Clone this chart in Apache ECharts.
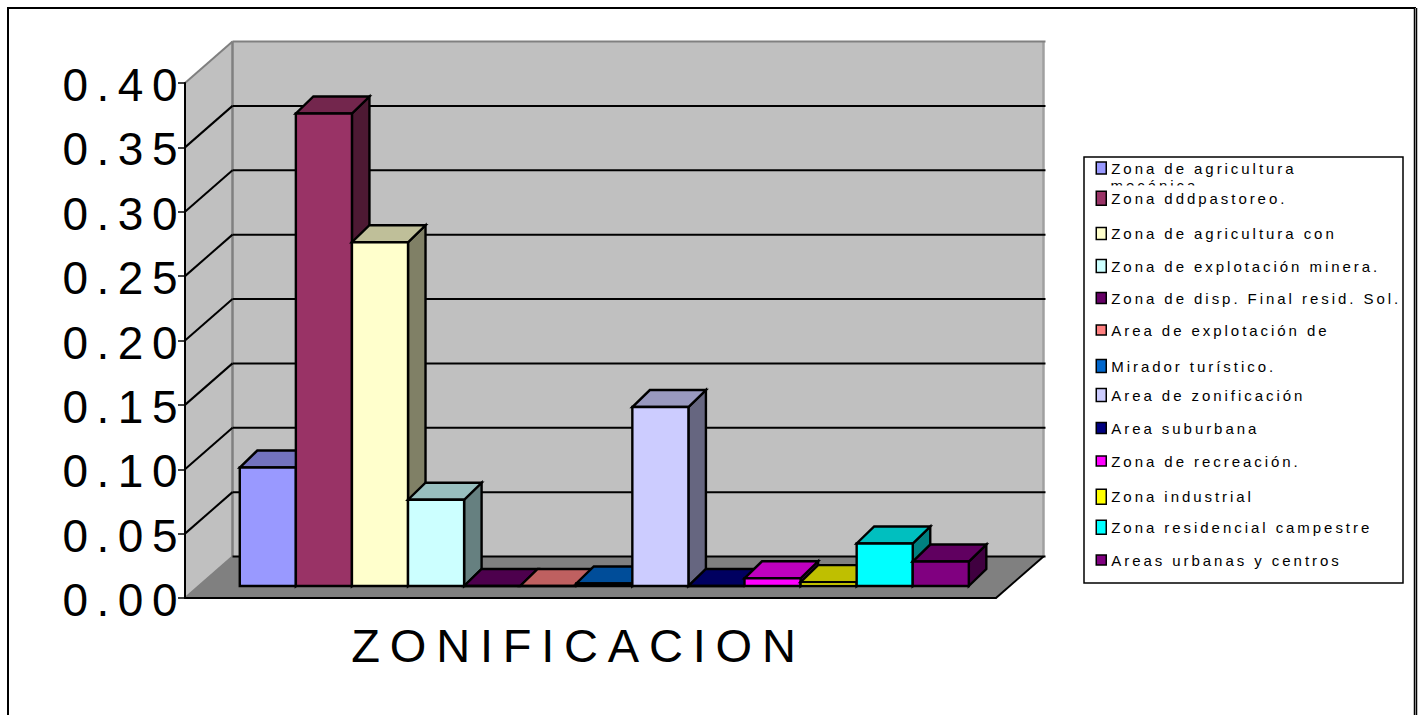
<!DOCTYPE html>
<html>
<head>
<meta charset="utf-8">
<style>
html,body{margin:0;padding:0;background:#fff;overflow:hidden}
#chart{width:1418px;height:715px}
svg text[style*="46px"]{letter-spacing:8.5px}
svg text[style*="47px"]{letter-spacing:9.8px}
svg text[style*="15px"]{letter-spacing:2.95px}
</style>
<script src="https://cdn.jsdelivr.net/npm/echarts@6/dist/echarts.min.js"></script>
</head>
<body>
<div id="chart"></div>
<script>
const categories = ['ZONIFICACION'];
const yTicks = [0, 0.05, 0.10, 0.15, 0.20, 0.25, 0.30, 0.35, 0.40];
const seriesNames = [
  'Zona de agricultura mecánica', 'Zona dddpastoreo.', 'Zona de agricultura con',
  'Zona de explotación minera.', 'Zona de disp. Final resid. Sol.', 'Area de explotación de',
  'Mirador turístico.', 'Area de zonificación', 'Area suburbana', 'Zona de recreación.',
  'Zona industrial', 'Zona residencial campestre', 'Areas urbanas y centros'
];
const seriesValues = [0.092, 0.367, 0.267, 0.067, 0, 0, 0.002, 0.139, 0, 0.006, 0.003, 0.033, 0.019];
const frontColors = ['#9999FF', '#993366', '#FFFFCC', '#CCFFFF', '#660066', '#FF8080', '#0066CC',
  '#CCCCFF', '#000080', '#FF00FF', '#FFFF00', '#00FFFF', '#800080'];
const topColors = ['#7373BF', '#73264D', '#BFBF99', '#99BFBF', '#4D004D', '#BF6060', '#004D99',
  '#9999BF', '#000060', '#BF00BF', '#BFBF00', '#00BFBF', '#600060'];
const sideColors = ['#4D4D80', '#4D1933', '#808066', '#668080', '#330033', '#804040', '#003366',
  '#666680', '#000040', '#800080', '#808000', '#008080', '#400040'];

// layout of the fake 3D box and legend, in pixels
const WALL_DX = 47.5, WALL_DY = 41.5, PLANE_DX = 13.8, PLANE_DY = 12, BAR_DX = 17.5, BAR_DY = 17, BAR_SHARE = 0.06915;
const legendCentres = [169, 199, 234.5, 267, 299, 331, 367, 396, 429, 462, 497, 528, 561];
const legendIconH = [12, 14, 12, 13, 11, 10, 13, 13, 11, 10, 15, 14, 10];

function poly(points, fill, stroke, lw) {
  return { type: 'polygon', shape: { points }, style: { fill, stroke: stroke || null, lineWidth: lw || 0, lineJoin: 'miter' } };
}
function seg(a, b, stroke, lw) {
  return { type: 'line', shape: { x1: a[0], y1: a[1], x2: b[0], y2: b[1] }, style: { stroke, lineWidth: lw } };
}
function boxBack(params, api) {
  const band = api.size([1, 0])[0];
  const c = api.coord([0, 0]), t = api.coord([0, yTicks[yTicks.length - 1]]);
  const xl = c[0] - band / 2, xr = c[0] + band / 2, y0 = c[1], y1 = t[1];
  return { type: 'group', children: [
    poly([[xl, y0], [xl, y1], [xl + WALL_DX, y1 - WALL_DY], [xl + WALL_DX, y0 - WALL_DY]], '#C0C0C0'),
    poly([[xl + WALL_DX, y1 - WALL_DY], [xr + WALL_DX, y1 - WALL_DY], [xr + WALL_DX, y0 - WALL_DY], [xl + WALL_DX, y0 - WALL_DY]], '#C0C0C0'),
    poly([[xl, y0], [xr, y0], [xr + WALL_DX, y0 - WALL_DY], [xl + WALL_DX, y0 - WALL_DY]], '#808080'),
    seg([xl + WALL_DX, y1 - WALL_DY], [xl + WALL_DX, y0 - WALL_DY], '#808080', 2.5),
    seg([xr + WALL_DX, y1 - WALL_DY], [xr + WALL_DX, y0 - WALL_DY], '#A0A0A0', 2.5),
    seg([xr, y0], [xr + WALL_DX, y0 - WALL_DY], '#000', 2)
  ] };
}
function gridLine(params, api) {
  const band = api.size([1, 0])[0];
  const v = api.value(1);
  const p = api.coord([0, v]), c = api.coord([0, 0]);
  const xl = c[0] - band / 2, xr = c[0] + band / 2, y = p[1];
  const isTop = v === yTicks[yTicks.length - 1], isZero = v === 0;
  const sideCol = (isTop || isZero) ? '#808080' : '#000';
  const backCol = isTop ? '#808080' : '#000';
  return { type: 'group', children: [
    seg([xl, y], [xl + WALL_DX, y - WALL_DY], sideCol, 2),
    seg([xl + WALL_DX, y - WALL_DY], [xr + WALL_DX + 2, y - WALL_DY], backCol, 2)
  ] };
}
function bar(i) {
  return function (params, api) {
    const band = api.size([1, 0])[0], w = band * BAR_SHARE;
    const base = api.coord([0, 0]), top = api.coord([0, api.value(1)]);
    const x0 = base[0] + PLANE_DX + (i - seriesNames.length / 2) * w, x1 = x0 + w;
    const yb = base[1] - PLANE_DY, yt = top[1] - PLANE_DY;
    return { type: 'group', children: [
      poly([[x1, yb], [x1 + BAR_DX, yb - BAR_DY], [x1 + BAR_DX, yt - BAR_DY], [x1, yt]], sideColors[i], '#000', 2.4),
      poly([[x0, yt], [x1, yt], [x1 + BAR_DX, yt - BAR_DY], [x0 + BAR_DX, yt - BAR_DY]], topColors[i], '#000', 2.4),
      poly([[x0, yb], [x1, yb], [x1, yt], [x0, yt]], frontColors[i], '#000', 2.4)
    ] };
  };
}

const series = [
  { type: 'custom', name: 'box', silent: true, renderItem: boxBack, data: [[categories[0], 0]], z: 1 },
  { type: 'custom', name: 'grid', silent: true, renderItem: gridLine, data: yTicks.map(v => [categories[0], v]), z: 1.5 }
].concat(seriesNames.map((name, i) => ({
  type: 'custom', name, renderItem: bar(i), data: [[categories[0], seriesValues[i]]],
  itemStyle: { color: frontColors[i] }, z: 2
})));

const legends = seriesNames.map((name, i) => ({
  left: 1095.5,
  top: legendCentres[i] - Math.max(legendIconH[i], 17) / 2,
  orient: 'vertical', selectedMode: false, padding: 0, z: 6,
  itemWidth: 10, itemHeight: legendIconH[i], icon: 'rect',
  itemStyle: { borderColor: '#000', borderWidth: 1.5 },
  data: [name],
  formatter: n => n.replace(' mecánica', ''),
  textStyle: { fontFamily: 'Liberation Sans', fontSize: 15, color: '#000' }
}));

const chart = echarts.init(document.getElementById('chart'), null, { renderer: 'svg' });
chart.setOption({
  animation: false,
  backgroundColor: '#fff',
  grid: { left: 185, top: 83, width: 811, height: 515 },
  legend: legends,
  xAxis: {
    type: 'category', data: categories, z: 5,
    axisLine: { lineStyle: { color: '#000', width: 2 } },
    axisTick: { length: 7, lineStyle: { color: '#000', width: 1.5 } },
    axisLabel: { fontFamily: 'Liberation Sans', fontSize: 47, color: '#000', margin: 24, padding: [0, 24, 0, 0] }
  },
  yAxis: {
    type: 'value', min: 0, max: 0.4, interval: 0.05, z: 5,
    splitLine: { show: false },
    axisLine: { show: true, lineStyle: { color: '#000', width: 2 } },
    axisTick: { show: true, length: 7, lineStyle: { color: '#000', width: 1.5 } },
    axisLabel: { fontFamily: 'Liberation Sans', fontSize: 46, color: '#000', margin: -1, verticalAlign: 'top', lineHeight: 4, formatter: v => v.toFixed(2) }
  },
  series,
  graphic: [
    { type: 'polyline', z: 1, shape: { points: [[8, 715], [8, 8], [1415, 8], [1415, 715]] }, style: { fill: null, stroke: '#000', lineWidth: 2 } },
    { type: 'line', z: 1, shape: { x1: 1415.5, y1: 8, x2: 1415.5, y2: 715 }, style: { stroke: '#000', lineWidth: 3.5 } },
    { type: 'line', z: 1, shape: { x1: 1415.5, y1: 8, x2: 1415.5, y2: 715 }, style: { stroke: '#888', lineWidth: 1 } },
    { type: 'rect', z: 1, shape: { x: 1084, y: 157, width: 319, height: 426 }, style: { fill: '#fff', stroke: '#000', lineWidth: 1.5 } },
    { type: 'text', z: 2, style: { x: 1110.5, y: 182, text: 'mecánica', fontFamily: 'Liberation Sans', fontSize: 15, lineHeight: 6, fill: '#000' } },
    { type: 'rect', z: 3, shape: { x: 1108, y: 185.5, width: 120, height: 5.5 }, style: { fill: '#fff' } }
  ]
});
</script>
</body>
</html>
